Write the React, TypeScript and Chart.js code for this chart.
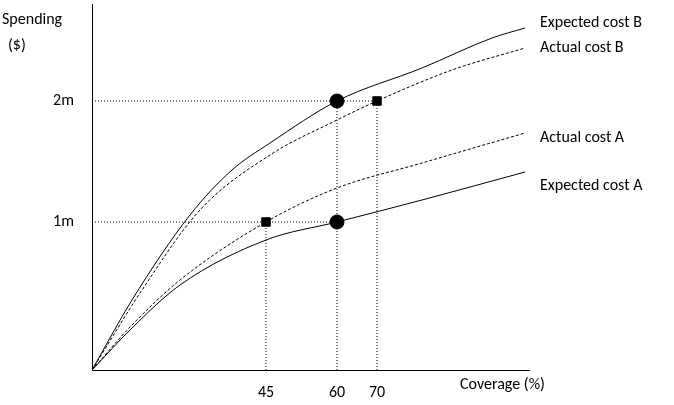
import { useEffect, useRef } from "react";
import { Chart, registerables, Plugin } from "chart.js";

Chart.register(...registerables);

// Conceptual chart: units are arbitrary (not linear in % / $)
const expectedB = [[0, 0], [40, 70], [98, 155], [140, 200], [178, 227], [245, 269], [330, 302], [400, 332], [433, 342]];
const actualB = [[0, 0], [50, 80], [108, 160], [178, 215], [245, 250], [285, 269], [360, 300], [433, 322]];
const actualA = [[0, 0], [40, 45], [88, 90], [174, 148], [245, 182], [330, 207], [433, 237]];
const expectedA = [[0, 0], [40, 42], [88, 85], [174, 130], [245, 148], [330, 170], [433, 198]];

const circles = [[245, 269], [245, 148]];
const squares = [[285, 269], [174, 148]];

const xTicks = [174, 245, 285];
const xTickLabels = ["45", "60", "70"];
const yTicks = [148, 269];
const yTickLabels = ["1m", "2m"];

const seriesLabels = ["Expected cost B", "Actual cost B", "Actual cost A", "Expected cost A"];
const seriesLabelY = [347, 322, 232, 184];

const pts = (a: number[][]) => a.map(([x, y]) => ({ x, y }));

const guides = [
  [[0, 269], [285, 269]],
  [[0, 148], [245, 148]],
  [[174, 0], [174, 148]],
  [[245, 0], [245, 269]],
  [[285, 0], [285, 269]],
];

const font = "16px Carlito, 'Open Sans', 'Liberation Sans', sans-serif";

const decor: Plugin = {
  id: "decor",
  afterDatasetsDraw(chart) {
    const { ctx, chartArea, scales } = chart;
    const xs = scales.x, ys = scales.y;
    ctx.save();
    ctx.strokeStyle = "#000";
    ctx.lineWidth = 1;
    ctx.beginPath();
    ctx.moveTo(chartArea.left + 0.5, 4);
    ctx.lineTo(chartArea.left + 0.5, chartArea.bottom + 0.5);
    ctx.lineTo(chartArea.right, chartArea.bottom + 0.5);
    ctx.stroke();
    ctx.fillStyle = "#000";
    ctx.font = font;
    ctx.textBaseline = "middle";
    ctx.textAlign = "center";
    xTicks.forEach((v, i) => ctx.fillText(xTickLabels[i], xs.getPixelForValue(v), chartArea.bottom + 23));
    ctx.textAlign = "right";
    yTicks.forEach((v, i) => ctx.fillText(yTickLabels[i], chartArea.left - 18, ys.getPixelForValue(v)));
    ctx.textAlign = "left";
    seriesLabels.forEach((t, i) => ctx.fillText(t, xs.getPixelForValue(448), ys.getPixelForValue(seriesLabelY[i])));
    ctx.fillText("Spending", 2, 20);
    ctx.fillText("($)", 8, 46);
    ctx.fillText("Coverage (%)", 460, chartArea.bottom + 15);
    ctx.restore();
  },
};

export default function App() {
  const ref = useRef<HTMLCanvasElement>(null);
  useEffect(() => {
    if (!ref.current) return;
    const line = (data: number[][], dash: number[]) => ({
      type: "line" as const,
      data: pts(data),
      borderColor: "#000",
      borderWidth: 1,
      borderDash: dash,
      pointRadius: 0,
      cubicInterpolationMode: "monotone" as const,
      fill: false,
    });
    const chart = new Chart(ref.current, {
      type: "line",
      data: {
        datasets: [
          ...guides.map((g) => ({ ...line(g, [1, 2]), cubicInterpolationMode: "default" as const })),
          line(expectedB, []),
          line(actualB, [3, 2]),
          line(actualA, [3, 2]),
          line(expectedA, []),
          { type: "scatter" as const, data: pts(circles), pointStyle: "circle", pointRadius: 7, backgroundColor: "#000", borderColor: "#000" },
          { type: "scatter" as const, data: pts(squares), pointStyle: "rect", pointRadius: 6, backgroundColor: "#000", borderColor: "#000" },
        ] as any,
      },
      options: {
        animation: false,
        responsive: false,
        layout: { padding: { left: 92, right: 144, top: 10, bottom: 35 } },
        scales: {
          x: { type: "linear", min: 0, max: 438, display: false },
          y: { type: "linear", min: 0, max: 360, display: false },
        },
        plugins: { legend: { display: false }, tooltip: { enabled: false } },
      },
      plugins: [decor],
    });
    return () => chart.destroy();
  }, []);
  return (
    <div style={{ position: "absolute", left: 0, top: 0, width: 674, height: 405, background: "#fff" }}>
      <canvas ref={ref} width={674} height={405} />
    </div>
  );
}
